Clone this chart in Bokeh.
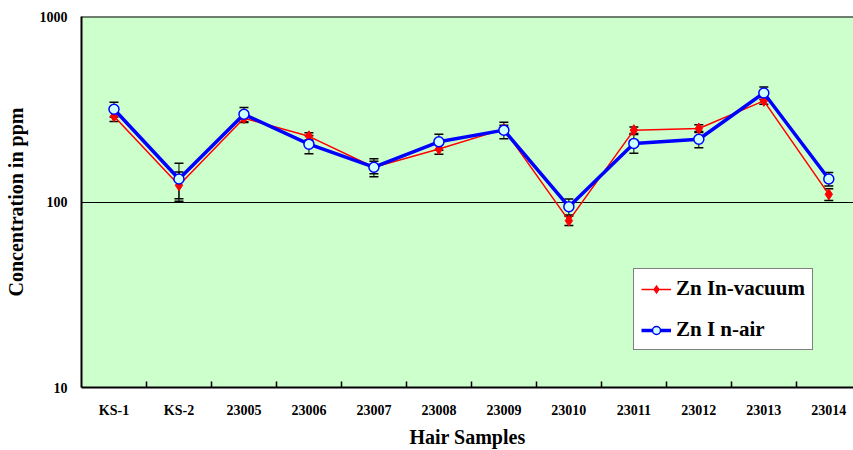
from bokeh.plotting import figure
from bokeh.models import (ColumnDataSource, Whisker, TeeHead, FixedTicker,
                          CustomJSTickFormatter, Span, Legend, LegendItem)
from bokeh.embed import file_html
from bokeh.resources import INLINE

samples = ["KS-1", "KS-2", "23005", "23006", "23007", "23008", "23009",
           "23010", "23011", "23012", "23013", "23014"]
vacuum = [290, 123, 283, 226, 154, 193, 247, 79.3, 244, 249, 351, 110]
vacuum_err = [18, 22, 15, 10, 12, 12, 12, 4.5, 10, 12, 15, 8]
air = [316, 133, 297, 205, 154, 211, 244, 94.4, 207, 218, 387, 133]
air_err = [29, 29, 26, 23, 17, 21, 25, 9.4, 24, 22, 30, 11]
y_ticks = [10, 100, 1000]

xs = list(range(len(samples)))
FONT = "Liberation Serif"

p = figure(width=853, height=450, output_backend="svg", toolbar_location=None,
           y_axis_type="log", x_range=(-0.5, 11.38), y_range=(10, 1000),
           min_border_left=81, min_border_top=16, min_border_right=0,
           min_border_bottom=62)
p.border_fill_color = "white"
p.background_fill_color = "#ccffcc"
p.outline_line_color = None

src_v = ColumnDataSource(dict(x=xs, y=vacuum,
                              lo=[v - e for v, e in zip(vacuum, vacuum_err)],
                              hi=[v + e for v, e in zip(vacuum, vacuum_err)]))
src_a = ColumnDataSource(dict(x=xs, y=air,
                              lo=[v - e for v, e in zip(air, air_err)],
                              hi=[v + e for v, e in zip(air, air_err)]))

# grid
p.xgrid.grid_line_color = None
p.ygrid.grid_line_color = "black"
p.ygrid.grid_line_width = 1
p.ygrid.ticker = FixedTicker(ticks=y_ticks)
p.ygrid.minor_grid_line_color = None

top = Span(location=1000, dimension="width", line_color="black", line_width=2)
p.add_layout(top)

for src in (src_v, src_a):
    w = Whisker(source=src, base="x", upper="hi", lower="lo", dimension="height",
                line_color="black", line_width=1,
                upper_head=TeeHead(size=9, line_color="black", line_width=1.5),
                lower_head=TeeHead(size=9, line_color="black", line_width=1.5))
    p.add_layout(w)

rv_l = p.line("x", "y", source=src_v, line_color="#ff0000", line_width=1.5)
rv_m = p.scatter("x", "y", source=src_v, marker="diamond", size=11,
                 fill_color="#ff0000", line_color="#ff0000")
ra_l = p.line("x", "y", source=src_a, line_color="#0000ff", line_width=3.5)
ra_m = p.scatter("x", "y", source=src_a, marker="circle", size=10,
                 fill_color="#ccffff", line_color="#0000ff", line_width=1.5)

legend = Legend(items=[LegendItem(label="Zn In-vacuum", renderers=[rv_l, rv_m]),
                       LegendItem(label="Zn I n-air", renderers=[ra_l, ra_m])],
                location=(552, 37))
legend.label_text_font = FONT
legend.label_text_font_style = "bold"
legend.label_text_font_size = "21px"
legend.label_text_color = "black"
legend.border_line_color = "black"
legend.border_line_width = 1.5
legend.background_fill_color = "white"
legend.background_fill_alpha = 1
legend.glyph_width = 30
legend.label_standoff = 5
legend.padding = 7
legend.spacing = 16
legend.margin = 0
p.add_layout(legend, "center")

# x axis
xa = p.xaxis[0]
xa.ticker = FixedTicker(ticks=xs, minor_ticks=[i + 0.5 for i in xs[:-1]])
xa.major_label_overrides = {i: s for i, s in enumerate(samples)}
xa.major_tick_line_color = None
xa.minor_tick_in = 6
xa.minor_tick_out = 0
xa.minor_tick_line_color = "black"
xa.minor_tick_line_width = 1.5
xa.axis_line_color = "black"
xa.axis_line_width = 2
xa.major_label_text_font = FONT
xa.major_label_text_font_style = "bold"
xa.major_label_text_font_size = "14px"
xa.major_label_text_color = "black"
xa.major_label_standoff = 9
xa.axis_label = "Hair Samples"
xa.axis_label_text_font = FONT
xa.axis_label_text_font_style = "bold"
xa.axis_label_text_font_size = "20px"
xa.axis_label_text_color = "black"
xa.axis_label_standoff = 5

ya = p.yaxis[0]
ya.ticker = FixedTicker(ticks=y_ticks, minor_ticks=[])
ya.formatter = CustomJSTickFormatter(code="return Math.round(tick).toString();")
ya.major_tick_line_color = None
ya.minor_tick_line_color = None
ya.axis_line_color = "black"
ya.axis_line_width = 2
ya.major_label_text_font = FONT
ya.major_label_text_font_style = "bold"
ya.major_label_text_font_size = "14px"
ya.major_label_text_color = "black"
ya.major_label_standoff = 8
ya.axis_label = "Concentration in ppm"
ya.axis_label_text_font = FONT
ya.axis_label_text_font_style = "bold"
ya.axis_label_text_font_size = "20px"
ya.axis_label_text_color = "black"
ya.axis_label_standoff = 10

open("out.html", "w").write(file_html(p, INLINE))
